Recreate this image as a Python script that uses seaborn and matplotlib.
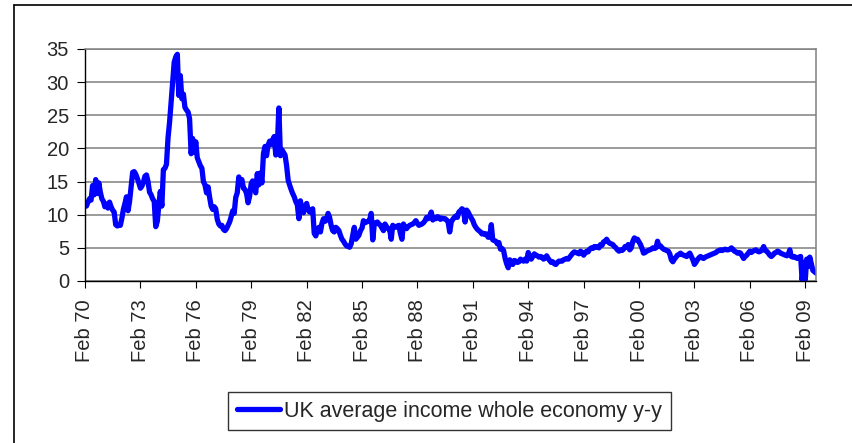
import seaborn as sns
import matplotlib.pyplot as plt
import pandas as pd
from matplotlib.lines import Line2D

# monthly y-y growth, Feb 1970 .. Sep 2009
y1970 = [11.5, 11.3, 11.9, 12.4, 12.2, 14.4, 13.0, 15.3, 13.2, 14.8, 13.4]
y1971 = [12.4, 12.0, 11.2, 11.6, 11.0, 11.9, 11.2, 10.7, 10.4, 8.5, 8.3, 8.4]
y1972 = [8.4, 9.5, 10.8, 11.7, 12.7, 10.6, 12.0, 14.2, 16.4, 16.5, 16.1, 15.5]
y1973 = [14.8, 14.0, 14.3, 14.9, 15.8, 16.0, 15.0, 13.4, 13.0, 12.4, 12.0, 8.2]
y1974 = [9.0, 11.5, 13.5, 11.3, 16.8, 17.0, 17.6, 21.6, 24.0, 27.0, 30.2, 33.0]
y1975 = [33.8, 34.2, 28.0, 31.0, 27.5, 28.2, 26.2, 25.8, 25.5, 24.5, 19.2, 21.5]
y1976 = [19.4, 21.0, 18.6, 18.0, 17.4, 17.0, 15.0, 14.5, 13.3, 14.2, 12.6, 11.3]
y1977 = [10.8, 11.2, 10.9, 9.3, 8.6, 8.3, 8.4, 7.8, 7.6, 7.9, 8.4, 8.9]
y1978 = [9.7, 10.6, 10.2, 12.6, 13.3, 15.7, 15.0, 15.3, 14.0, 13.8, 13.2, 11.8]
y1979 = [12.8, 14.7, 15.1, 14.2, 13.3, 16.2, 14.5, 16.3, 14.8, 19.2, 20.3, 18.9]
y1980 = [20.5, 21.1, 20.6, 21.3, 21.8, 19.0, 20.4, 26.1, 18.9, 19.8, 19.4, 19.0]
y1981 = [17.4, 15.2, 14.5, 13.8, 13.2, 12.7, 12.0, 11.5, 9.4, 12.1, 10.8, 10.3]
y1982 = [11.2, 11.7, 10.8, 10.4, 10.6, 10.9, 7.2, 6.8, 7.6, 8.1, 7.4, 8.7]
y1983 = [9.4, 9.0, 9.2, 10.2, 9.6, 8.4, 7.6, 7.4, 8.1, 7.9, 7.6, 6.9]
y1984 = [6.3, 6.0, 5.6, 5.3, 5.2, 5.1, 5.6, 6.9, 8.1, 6.3, 6.6, 6.9]
y1985 = [7.6, 8.0, 9.1, 8.8, 8.9, 9.0, 9.2, 10.2, 6.2, 8.6, 8.8, 8.9]
y1986 = [8.6, 8.4, 8.0, 7.6, 8.6, 8.2, 7.9, 7.8, 6.3, 8.4, 8.2, 8.1]
y1987 = [8.3, 8.4, 7.2, 6.3, 8.6, 8.0, 7.9, 8.2, 8.4, 8.5, 8.6, 8.8]
y1988 = [9.1, 8.7, 8.4, 8.5, 8.6, 8.8, 9.1, 9.6, 9.4, 9.8, 10.4, 9.2]
y1989 = [9.5, 9.4, 9.7, 9.6, 9.3, 9.5, 9.4, 9.4, 9.2, 8.9, 7.4, 8.9]
y1990 = [9.3, 9.6, 9.8, 9.6, 10.4, 10.6, 10.9, 10.7, 8.9, 10.7, 10.4, 9.9]
y1991 = [9.5, 9.1, 8.5, 8.1, 7.8, 7.6, 7.4, 7.1, 7.2, 7.0, 7.1, 6.6]
y1992 = [6.6, 8.5, 6.2, 6.1, 6.0, 5.6, 5.8, 4.8, 4.9, 4.6, 3.4, 2.6]
y1993 = [2.0, 3.2, 2.6, 2.5, 3.1, 3.0, 2.8, 2.9, 3.3, 3.1, 3.0, 3.3]
y1994 = [3.0, 4.3, 3.6, 3.3, 3.7, 4.1, 3.9, 3.8, 3.6, 3.7, 3.6, 3.3]
y1995 = [3.5, 3.8, 3.4, 3.1, 2.8, 2.9, 2.6, 2.5, 2.8, 3.0, 3.0, 3.0]
y1996 = [3.2, 3.3, 3.4, 3.3, 3.6, 3.9, 4.2, 4.4, 4.3, 4.2, 4.1, 4.5]
y1997 = [4.3, 3.9, 4.2, 4.5, 4.4, 4.8, 5.0, 4.9, 5.2, 5.1, 5.2, 5.0]
y1998 = [5.5, 5.4, 5.9, 6.0, 6.3, 5.9, 5.7, 5.6, 5.5, 5.2, 5.0, 4.7]
y1999 = [4.5, 4.7, 4.6, 4.8, 5.2, 5.1, 5.5, 4.7, 5.0, 6.0, 6.5, 6.2]
y2000 = [6.3, 5.9, 5.5, 4.9, 4.2, 4.3, 4.5, 4.6, 4.7, 4.8, 5.0, 4.9]
y2001 = [5.0, 6.0, 5.2, 5.3, 5.0, 4.8, 4.7, 4.6, 4.5, 4.1, 3.2, 2.9]
y2002 = [3.3, 3.6, 3.9, 4.0, 4.2, 4.0, 3.9, 3.8, 3.7, 4.0, 4.2, 3.7]
y2003 = [3.2, 2.5, 2.8, 3.2, 3.5, 3.7, 3.5, 3.4, 3.6, 3.7, 3.8, 3.9]
y2004 = [4.0, 4.1, 4.2, 4.3, 4.5, 4.6, 4.7, 4.6, 4.7, 4.8, 4.7, 4.7]
y2005 = [4.8, 5.0, 4.8, 4.5, 4.4, 4.2, 4.3, 4.2, 3.8, 3.4, 3.7, 3.9]
y2006 = [4.2, 4.5, 4.3, 4.5, 4.6, 4.7, 4.5, 4.4, 4.5, 4.7, 5.2, 4.6]
y2007 = [4.5, 4.2, 3.9, 3.7, 3.9, 4.2, 4.3, 4.5, 4.4, 4.2, 4.1, 4.0]
y2008 = [3.9, 3.8, 4.0, 4.7, 3.7, 3.6, 3.7, 3.5, 3.4, 3.6, 3.7, 0.1]
y2009 = [2.8, 0.2, 3.3, 2.2, 3.6, 2.6, 1.6, 1.4, 1.2]

values = (y1970 + y1971 + y1972 + y1973 + y1974 + y1975 + y1976 + y1977 + y1978
          + y1979 + y1980 + y1981 + y1982 + y1983 + y1984 + y1985 + y1986 + y1987
          + y1988 + y1989 + y1990 + y1991 + y1992 + y1993 + y1994 + y1995 + y1996
          + y1997 + y1998 + y1999 + y2000 + y2001 + y2002 + y2003 + y2004 + y2005
          + y2006 + y2007 + y2008 + y2009)
dates = pd.date_range('1970-02-01', periods=len(values), freq='MS')
series_label = 'UK average income whole economy y-y'

df = pd.DataFrame({'date': dates, 'value': values})

sns.set_style('white')
plt.rcParams['font.family'] = ['Liberation Sans', 'DejaVu Sans']

fig = plt.figure(figsize=(8.52, 4.43), dpi=100)
ax = fig.add_axes([85 / 852, 1 - 281 / 443, (816 - 85) / 852, (281 - 49) / 443])

sns.lineplot(data=df, x='date', y='value', color='#0000FF', linewidth=3.8,
             label=series_label, ax=ax)

ax.set_xlim(dates[0], dates[-1])
ax.set_ylim(0, 35)
ax.set_yticks(range(0, 36, 5))
tick_dates = dates[::36]
ax.set_xticks(tick_dates)
ax.set_xticklabels([d.strftime('%b %y') for d in tick_dates], rotation=90)
ax.set_xlabel('')
ax.set_ylabel('')

ax.yaxis.grid(True, color='#808080', linewidth=1.1)
ax.set_axisbelow(True)
for side in ['top', 'right']:
    ax.spines[side].set_color('#808080')
    ax.spines[side].set_linewidth(1.1)
for side in ['left', 'bottom']:
    ax.spines[side].set_color('black')
    ax.spines[side].set_linewidth(1.0)

ax.tick_params(axis='y', direction='out', length=5.5, width=0.8, color='black',
               labelsize=14.5, pad=6, left=True)
ax.tick_params(axis='x', direction='out', length=5, width=0.8, color='black',
               labelsize=14.5, pad=8, bottom=True)

ax.legend(loc='center', bbox_to_anchor=(449.5 / 852, 1 - 411 / 443),
          bbox_transform=fig.transFigure, frameon=True, fancybox=False,
          edgecolor='black', fontsize=15.5, handlelength=2.0, handletextpad=0.2,
          borderpad=0.4, borderaxespad=0)
leg = ax.get_legend()
leg.get_frame().set_linewidth(1.0)

# outer chart border (only left and top edges fall inside the picture)
fig.add_artist(Line2D([14 / 852, 14 / 852], [0, 1 - 5 / 443], color='black',
                      linewidth=1.2, transform=fig.transFigure))
fig.add_artist(Line2D([14 / 852, 1], [1 - 5 / 443, 1 - 5 / 443], color='black',
                      linewidth=1.2, transform=fig.transFigure))

fig.savefig('out.png', dpi=100)
